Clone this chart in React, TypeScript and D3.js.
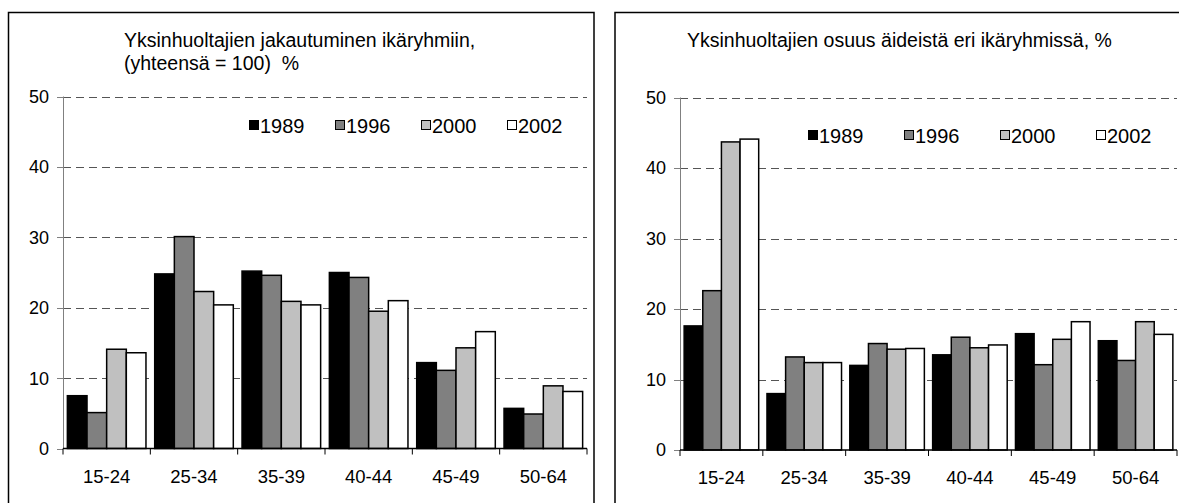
import React, { useRef, useEffect } from 'react';
import * as d3 from 'd3';

const ageGroups = ['15-24', '25-34', '35-39', '40-44', '45-49', '50-64'];
const years = ['1989', '1996', '2000', '2002'];
const yTicks = [0, 10, 20, 30, 40, 50];

// Distribution of single parents over age groups (total = 100)
const distribution1989 = [7.5, 24.8, 25.2, 25.0, 12.2, 5.7];
const distribution1996 = [5.1, 30.1, 24.6, 24.3, 11.1, 4.9];
const distribution2000 = [14.1, 22.3, 20.9, 19.5, 14.3, 8.9];
const distribution2002 = [13.6, 20.4, 20.4, 21.0, 16.6, 8.1];

// Single parents as a share of mothers in each age group
const share1989 = [17.6, 8.0, 12.0, 13.5, 16.5, 15.5];
const share1996 = [22.6, 13.2, 15.1, 16.0, 12.1, 12.7];
const share2000 = [43.7, 12.4, 14.3, 14.5, 15.7, 18.2];
const share2002 = [44.1, 12.4, 14.4, 14.9, 18.2, 16.4];

const barColors = ['#000000', '#808080', '#c0c0c0', '#ffffff'];
const FONT = '"Liberation Sans", Arial, sans-serif';

interface ChartSpec {
  frame: [number, number, number, number];
  plot: { left: number; right: number; bottom: number; top: number };
  titleLines: string[];
  titleX: number;
  titleY: number;
  legendX: number;
  legendY: number;
  legendStep: number;
  series: number[][];
}

const charts: ChartSpec[] = [
  {
    frame: [8.5, 12.5, 594, 520],
    plot: { left: 63, right: 587, bottom: 448.5, top: 96.5 },
    titleLines: ['Yksinhuoltajien jakautuminen ikäryhmiin,', '(yhteensä = 100)  %'],
    titleX: 124,
    titleY: 46.5,
    legendX: 249,
    legendY: 133,
    legendStep: 86,
    series: [distribution1989, distribution1996, distribution2000, distribution2002],
  },
  {
    frame: [615, 12.5, 1190, 520],
    plot: { left: 680, right: 1177, bottom: 450, top: 97.5 },
    titleLines: ['Yksinhuoltajien osuus äideistä eri ikäryhmissä, %'],
    titleX: 687,
    titleY: 46.5,
    legendX: 808,
    legendY: 143,
    legendStep: 96,
    series: [share1989, share1996, share2000, share2002],
  },
];

function drawChart(svg: d3.Selection<SVGSVGElement, unknown, null, undefined>, spec: ChartSpec) {
  const g = svg.append('g');
  const { left, right, bottom, top } = spec.plot;

  // outer frame
  const [fx0, fy0, fx1, fy1] = spec.frame;
  g.append('rect')
    .attr('x', fx0).attr('y', fy0)
    .attr('width', fx1 - fx0).attr('height', fy1 - fy0)
    .attr('fill', '#fff').attr('stroke', '#000').attr('stroke-width', 1.5);

  // title
  const title = g.append('text')
    .attr('x', spec.titleX).attr('y', spec.titleY)
    .attr('font-family', FONT).attr('font-size', 19.5).attr('fill', '#000')
    .style('white-space', 'pre');
  spec.titleLines.forEach((line, i) => {
    title.append('tspan').attr('x', spec.titleX).attr('dy', i === 0 ? 0 : 23.5).text(line);
  });

  const x0 = d3.scaleBand<string>().domain(ageGroups).range([left, right]).paddingInner(0.1).paddingOuter(0.05);
  const x1 = d3.scaleBand<string>().domain(years).range([0, x0.bandwidth()]);
  const y = d3.scaleLinear().domain([0, 50]).range([bottom, top]);
  const step = x0.step();

  // dashed gridlines
  g.selectAll('line.grid')
    .data(yTicks.filter(t => t > 0))
    .join('line')
    .attr('x1', left).attr('x2', right)
    .attr('y1', d => Math.round(y(d)) + 0.5).attr('y2', d => Math.round(y(d)) + 0.5)
    .attr('stroke', '#555').attr('stroke-width', 1).attr('stroke-dasharray', '8,5');

  // y axis
  g.append('line')
    .attr('x1', left + 0.5).attr('x2', left + 0.5).attr('y1', top).attr('y2', bottom)
    .attr('stroke', '#808080').attr('stroke-width', 1);
  g.selectAll('line.ytick')
    .data(yTicks)
    .join('line')
    .attr('x1', left - 6).attr('x2', left)
    .attr('y1', d => Math.round(y(d)) + 0.5).attr('y2', d => Math.round(y(d)) + 0.5)
    .attr('stroke', '#808080');
  g.selectAll('text.ylab')
    .data(yTicks)
    .join('text')
    .attr('x', left - 14).attr('y', d => y(d))
    .attr('dy', '0.36em')
    .attr('text-anchor', 'end')
    .attr('font-family', FONT).attr('font-size', 18)
    .text(d => d);

  // bars
  const groups = g.selectAll('g.group')
    .data(ageGroups)
    .join('g')
    .attr('transform', d => `translate(${x0(d)},0)`);
  groups.selectAll('rect')
    .data((_, i) => years.map((yr, s) => ({ yr, s, v: spec.series[s][i] })))
    .join('rect')
    .attr('x', d => x1(d.yr)!)
    .attr('width', x1.bandwidth())
    .attr('y', d => y(d.v))
    .attr('height', d => bottom - y(d.v))
    .attr('fill', d => barColors[d.s])
    .attr('stroke', '#000').attr('stroke-width', 1.5);

  // x axis
  g.append('line')
    .attr('x1', left).attr('x2', right).attr('y1', bottom).attr('y2', bottom)
    .attr('stroke', '#000').attr('stroke-width', 1.5);
  g.selectAll('line.xtick')
    .data(d3.range(ageGroups.length + 1))
    .join('line')
    .attr('x1', i => left + i * step).attr('x2', i => left + i * step)
    .attr('y1', bottom).attr('y2', bottom + 6)
    .attr('stroke', '#000');
  g.selectAll('text.xlab')
    .data(ageGroups)
    .join('text')
    .attr('x', d => x0(d)! + x0.bandwidth() / 2)
    .attr('y', bottom + 34)
    .attr('text-anchor', 'middle')
    .attr('font-family', FONT).attr('font-size', 18.5)
    .text(d => d);

  // legend
  const legend = g.selectAll('g.legend')
    .data(years)
    .join('g')
    .attr('transform', (_, i) => `translate(${spec.legendX + i * spec.legendStep},${spec.legendY})`);
  legend.append('rect')
    .attr('x', 0.5).attr('y', -12.5).attr('width', 9).attr('height', 9)
    .attr('fill', (_, i) => barColors[i]).attr('stroke', '#000').attr('stroke-width', 1);
  legend.append('text')
    .attr('x', 11).attr('y', 0)
    .attr('font-family', FONT).attr('font-size', 20)
    .text(d => d);
}

export default function App() {
  const svgRef = useRef<SVGSVGElement>(null);

  useEffect(() => {
    const svg = d3.select(svgRef.current);
    if (!svg.node()) return;
    svg.selectAll('*').remove();
    charts.forEach(spec => drawChart(svg as any, spec));
  }, []);

  return (
    <svg
      ref={svgRef}
      width={1179}
      height={503}
      style={{ position: 'absolute', left: 0, top: 0, background: '#fff' }}
    />
  );
}
